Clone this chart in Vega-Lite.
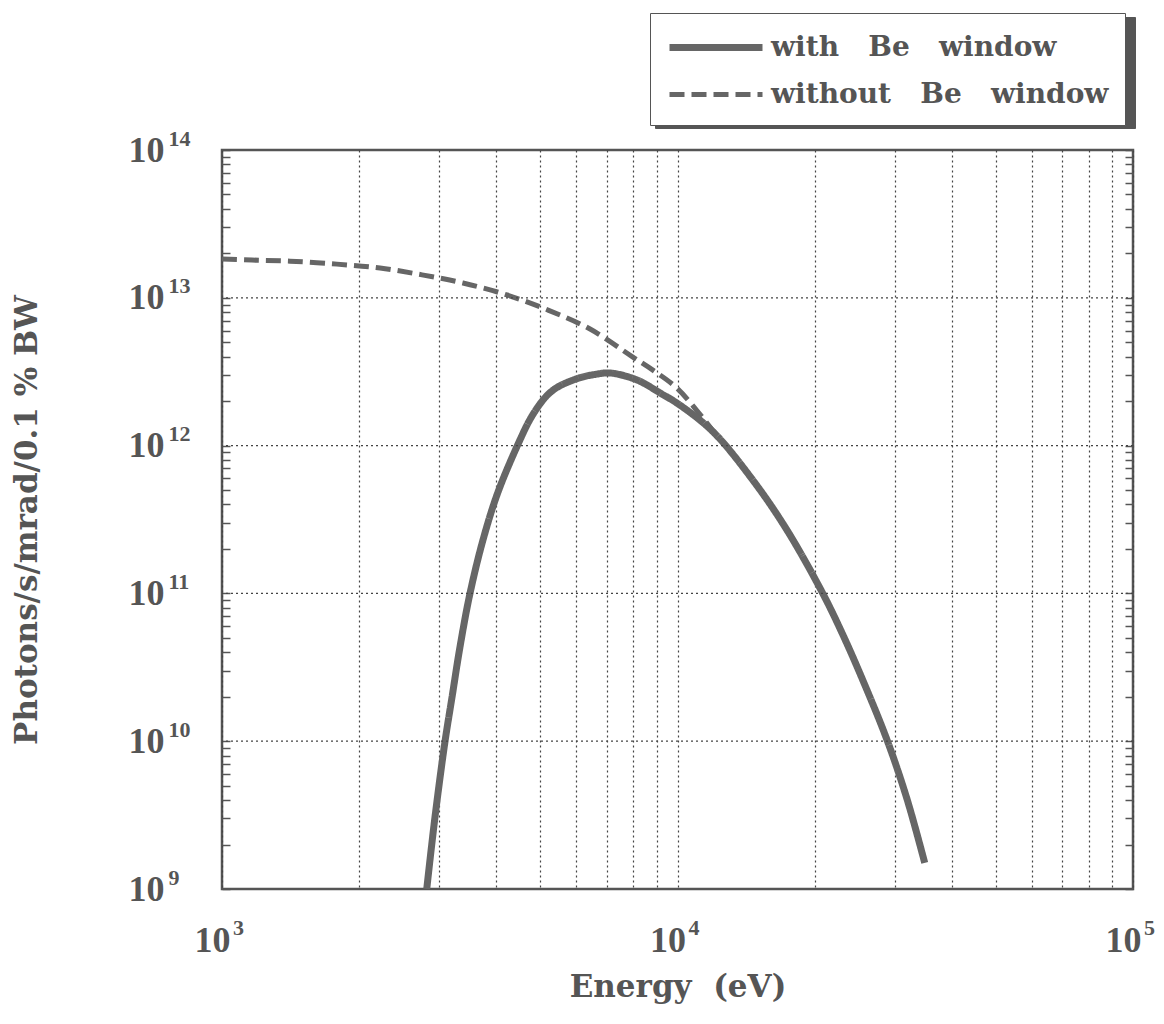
{
  "$schema": "https://vega.github.io/schema/vega-lite/v6.json",
  "autosize": "none",
  "width": 911,
  "height": 739,
  "padding": {"left": 222, "top": 150, "right": 31, "bottom": 135},
  "background": "white",
  "config": {
    "view": {"stroke": "#555", "strokeWidth": 2.5},
    "font": "Liberation Serif",
    "axis": {"labelFont": "Liberation Serif", "titleFont": "DejaVu Serif", "labelColor": "#555", "titleColor": "#555", "labelFontWeight": "bold", "titleFontWeight": "bold", "domain": false, "tickColor": "#555", "gridColor": "#444", "gridDash": [2, 3], "gridWidth": 1.2, "labelFlush": false, "labelOverlap": false, "labelBound": false}
  },
  "layer": [
    {
      "data": {"values": [
        {"energy": 1000, "flux": 1e9, "series": "with\u00a0\u00a0 Be\u00a0\u00a0 window"},
        {"energy": 1000, "flux": 1e9, "series": "without\u00a0\u00a0 Be\u00a0\u00a0 window"}
      ]},
      "mark": {"type": "point", "opacity": 0},
      "encoding": {
        "x": {"field": "energy", "type": "quantitative",
          "axis": {"orient": "bottom", "values": [1000, 10000, 100000], "grid": false, "ticks": false, "tickSize": 0, "title": null,
            "labelFontSize": 22, "labelPadding": 28, "labelOffset": 16,
            "labelExpr": "datum.value == 1000 ? '3' : datum.value == 10000 ? '4' : '5'"}},
        "y": {"field": "flux", "type": "quantitative",
          "axis": {"orient": "left", "values": [1e9, 1e10, 1e11, 1e12, 1e13, 1e14], "grid": false, "ticks": false, "tickSize": 0, "title": null,
            "labelFontSize": 22, "labelPadding": 54, "labelAlign": "left", "labelOffset": -12,
            "labelExpr": "datum.value == 1e9 ? '9' : datum.value == 1e10 ? '10' : datum.value == 1e11 ? '11' : datum.value == 1e12 ? '12' : datum.value == 1e13 ? '13' : '14'"}},
        "fill": {"field": "series", "type": "nominal",
          "scale": {"domain": ["without\u00a0\u00a0 Be\u00a0\u00a0 window", "with\u00a0\u00a0 Be\u00a0\u00a0 window"], "range": ["#555", "#555"]},
          "legend": {"title": null, "orient": "none", "legendX": 433, "legendY": -133,
            "symbolType": "M -1 0 L 28.5 0", "symbolSize": 900, "symbolOpacity": 0,
            "labelExpr": "'\u00a0'",
            "labelFont": "DejaVu Serif", "labelFontSize": 28, "labelFontWeight": "bold", "labelColor": "#555", "labelLimit": 600,
            "rowPadding": 15, "padding": 18, "strokeColor": "#555", "fillColor": "#555", "labelOffset": 68}}
      }
    },
    {
      "data": {"values": [
        {"series": "without\u00a0\u00a0 Be\u00a0\u00a0 window", "energy": 1000, "flux": 1.83e13},
        {"series": "without\u00a0\u00a0 Be\u00a0\u00a0 window", "energy": 1164, "flux": 1.80e13},
        {"series": "without\u00a0\u00a0 Be\u00a0\u00a0 window", "energy": 1410, "flux": 1.77e13},
        {"series": "without\u00a0\u00a0 Be\u00a0\u00a0 window", "energy": 1787, "flux": 1.69e13},
        {"series": "without\u00a0\u00a0 Be\u00a0\u00a0 window", "energy": 2223, "flux": 1.59e13},
        {"series": "without\u00a0\u00a0 Be\u00a0\u00a0 window", "energy": 2749, "flux": 1.43e13},
        {"series": "without\u00a0\u00a0 Be\u00a0\u00a0 window", "energy": 3381, "flux": 1.26e13},
        {"series": "without\u00a0\u00a0 Be\u00a0\u00a0 window", "energy": 4224, "flux": 1.045e13},
        {"series": "without\u00a0\u00a0 Be\u00a0\u00a0 window", "energy": 5198, "flux": 8.26e12},
        {"series": "without\u00a0\u00a0 Be\u00a0\u00a0 window", "energy": 6427, "flux": 6.15e12},
        {"series": "without\u00a0\u00a0 Be\u00a0\u00a0 window", "energy": 7980, "flux": 3.97e12},
        {"series": "without\u00a0\u00a0 Be\u00a0\u00a0 window", "energy": 8830, "flux": 3.24e12},
        {"series": "without\u00a0\u00a0 Be\u00a0\u00a0 window", "energy": 9970, "flux": 2.45e12},
        {"series": "without\u00a0\u00a0 Be\u00a0\u00a0 window", "energy": 11040, "flux": 1.72e12},
        {"series": "without\u00a0\u00a0 Be\u00a0\u00a0 window", "energy": 11970, "flux": 1.26e12},
        {"series": "without\u00a0\u00a0 Be\u00a0\u00a0 window", "energy": 13000, "flux": 9.3e11},
        {"series": "with\u00a0\u00a0 Be\u00a0\u00a0 window", "energy": 2815, "flux": 1.0e9},
        {"series": "with\u00a0\u00a0 Be\u00a0\u00a0 window", "energy": 2935, "flux": 3.07e9},
        {"series": "with\u00a0\u00a0 Be\u00a0\u00a0 window", "energy": 3088, "flux": 1.0e10},
        {"series": "with\u00a0\u00a0 Be\u00a0\u00a0 window", "energy": 3200, "flux": 2.0e10},
        {"series": "with\u00a0\u00a0 Be\u00a0\u00a0 window", "energy": 3330, "flux": 4.34e10},
        {"series": "with\u00a0\u00a0 Be\u00a0\u00a0 window", "energy": 3503, "flux": 1.0e11},
        {"series": "with\u00a0\u00a0 Be\u00a0\u00a0 window", "energy": 3741, "flux": 2.3e11},
        {"series": "with\u00a0\u00a0 Be\u00a0\u00a0 window", "energy": 4036, "flux": 4.85e11},
        {"series": "with\u00a0\u00a0 Be\u00a0\u00a0 window", "energy": 4508, "flux": 1.09e12},
        {"series": "with\u00a0\u00a0 Be\u00a0\u00a0 window", "energy": 4766, "flux": 1.54e12},
        {"series": "with\u00a0\u00a0 Be\u00a0\u00a0 window", "energy": 5070, "flux": 2.04e12},
        {"series": "with\u00a0\u00a0 Be\u00a0\u00a0 window", "energy": 5275, "flux": 2.31e12},
        {"series": "with\u00a0\u00a0 Be\u00a0\u00a0 window", "energy": 5520, "flux": 2.54e12},
        {"series": "with\u00a0\u00a0 Be\u00a0\u00a0 window", "energy": 6110, "flux": 2.88e12},
        {"series": "with\u00a0\u00a0 Be\u00a0\u00a0 window", "energy": 6590, "flux": 3.03e12},
        {"series": "with\u00a0\u00a0 Be\u00a0\u00a0 window", "energy": 7110, "flux": 3.10e12},
        {"series": "with\u00a0\u00a0 Be\u00a0\u00a0 window", "energy": 8150, "flux": 2.78e12},
        {"series": "with\u00a0\u00a0 Be\u00a0\u00a0 window", "energy": 9160, "flux": 2.27e12},
        {"series": "with\u00a0\u00a0 Be\u00a0\u00a0 window", "energy": 10120, "flux": 1.88e12},
        {"series": "with\u00a0\u00a0 Be\u00a0\u00a0 window", "energy": 11970, "flux": 1.24e12},
        {"series": "with\u00a0\u00a0 Be\u00a0\u00a0 window", "energy": 14660, "flux": 5.8e11},
        {"series": "with\u00a0\u00a0 Be\u00a0\u00a0 window", "energy": 17380, "flux": 2.69e11},
        {"series": "with\u00a0\u00a0 Be\u00a0\u00a0 window", "energy": 20840, "flux": 1.0e11},
        {"series": "with\u00a0\u00a0 Be\u00a0\u00a0 window", "energy": 23070, "flux": 5.25e10},
        {"series": "with\u00a0\u00a0 Be\u00a0\u00a0 window", "energy": 25540, "flux": 2.57e10},
        {"series": "with\u00a0\u00a0 Be\u00a0\u00a0 window", "energy": 28840, "flux": 1.02e10},
        {"series": "with\u00a0\u00a0 Be\u00a0\u00a0 window", "energy": 31900, "flux": 4.07e9},
        {"series": "with\u00a0\u00a0 Be\u00a0\u00a0 window", "energy": 34900, "flux": 1.5e9}
      ]},
      "mark": {"type": "line", "interpolate": "catmull-rom", "color": "#666", "clip": true},
      "encoding": {
        "x": {"field": "energy", "type": "quantitative",
          "scale": {"type": "log", "domain": [1000, 100000], "nice": false},
          "axis": {"orient": "bottom", "values": [1000,2000,3000,4000,5000,6000,7000,8000,9000,10000,20000,30000,40000,50000,60000,70000,80000,90000,100000],
            "grid": true, "ticks": false, "labelFontSize": 36, "labelPadding": 34, "labelOffset": -10,
            "labelExpr": "datum.value == 1000 || datum.value == 10000 || datum.value == 100000 ? '10' : ''",
            "title": "Energy\u00a0 (eV)", "titleFontSize": 31, "titlePadding": 14}},
        "y": {"field": "flux", "type": "quantitative",
          "scale": {"type": "log", "domain": [1e9, 1e14], "nice": false},
          "axis": {"orient": "left", "values": [1e9,2e9,3e9,4e9,5e9,6e9,7e9,8e9,9e9,1e10,2e10,3e10,4e10,5e10,6e10,7e10,8e10,9e10,1e11,2e11,3e11,4e11,5e11,6e11,7e11,8e11,9e11,1e12,2e12,3e12,4e12,5e12,6e12,7e12,8e12,9e12,1e13,2e13,3e13,4e13,5e13,6e13,7e13,8e13,9e13,1e14],
            "grid": false, "ticks": true, "tickSize": -8, "tickWidth": 1.5, "labelFontSize": 36, "labelPadding": 66,
            "labelExpr": "datum.value == 1e9 || datum.value == 1e10 || datum.value == 1e11 || datum.value == 1e12 || datum.value == 1e13 || datum.value == 1e14 ? '10' : ''",
            "title": "Photons/s/mrad/0.1 % BW", "titleFontSize": 31, "titlePadding": 85}},
        "strokeDash": {"field": "series", "type": "nominal",
          "scale": {"domain": ["with\u00a0\u00a0 Be\u00a0\u00a0 window", "without\u00a0\u00a0 Be\u00a0\u00a0 window"], "range": [[1, 0], [15, 7]]},
          "legend": {"title": null, "orient": "none", "legendX": 428, "legendY": -137,
            "symbolType": "M -1 0 L 5.2 0", "symbolSize": 900, "symbolStrokeWidth": 5, "symbolStrokeColor": "#666", "symbolFillColor": "transparent",
            "labelFont": "DejaVu Serif", "labelFontSize": 28, "labelFontWeight": "bold", "labelColor": "#555", "labelLimit": 600,
            "rowPadding": 15, "padding": 16, "strokeColor": "#555", "fillColor": "white", "labelOffset": 68}},
        "strokeWidth": {"field": "series", "type": "nominal",
          "scale": {"domain": ["with\u00a0\u00a0 Be\u00a0\u00a0 window", "without\u00a0\u00a0 Be\u00a0\u00a0 window"], "range": [7, 5]},
          "legend": null}
      }
    },
    {
      "data": {"values": [{"flux": 1e10}, {"flux": 1e11}, {"flux": 1e12}, {"flux": 1e13}]},
      "mark": {"type": "rule", "color": "#444", "strokeDash": [2, 3], "strokeWidth": 1.2},
      "encoding": {
        "y": {"field": "flux", "type": "quantitative",
          "axis": {"orient": "right", "values": [1e9,2e9,3e9,4e9,5e9,6e9,7e9,8e9,9e9,1e10,2e10,3e10,4e10,5e10,6e10,7e10,8e10,9e10,1e11,2e11,3e11,4e11,5e11,6e11,7e11,8e11,9e11,1e12,2e12,3e12,4e12,5e12,6e12,7e12,8e12,9e12,1e13,2e13,3e13,4e13,5e13,6e13,7e13,8e13,9e13,1e14],
            "grid": false, "labels": false, "title": null, "ticks": true, "tickSize": -8, "tickWidth": 1.5}}
      }
    }
  ],
  "resolve": {"axis": {"x": "independent", "y": "independent"}}
}
